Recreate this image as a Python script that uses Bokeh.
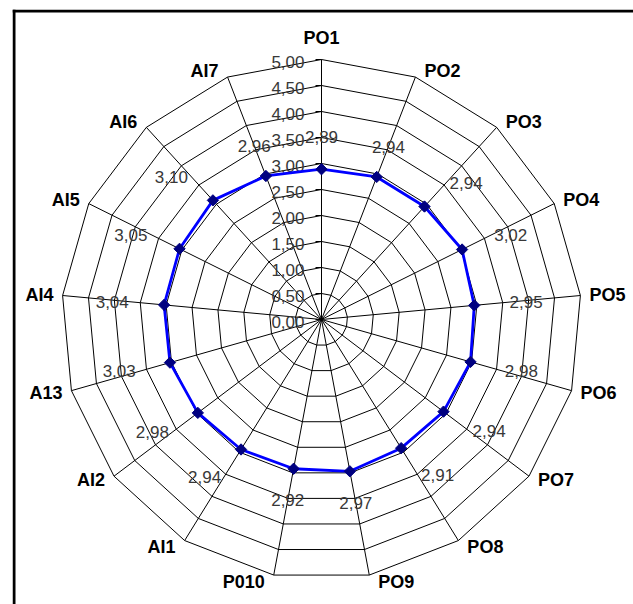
import numpy as np
from bokeh.plotting import figure
from bokeh.models import ColumnDataSource, Span, Range1d
from bokeh.core.properties import value
from bokeh.embed import file_html
from bokeh.resources import INLINE

# ---- data ----
categories = ["PO1", "PO2", "PO3", "PO4", "PO5", "PO6", "PO7", "PO8", "PO9",
              "P010", "AI1", "AI2", "A13", "AI4", "AI5", "AI6", "AI7"]
scores = [2.89, 2.94, 2.94, 3.02, 2.95, 2.98, 2.94, 2.91, 2.97,
          2.92, 2.94, 2.98, 3.03, 3.04, 3.05, 3.10, 2.96]
tick_values = [0.0, 0.5, 1.0, 1.5, 2.0, 2.5, 3.0, 3.5, 4.0, 4.5, 5.0]
tick_labels = ["0,00", "0,50", "1,00", "1,50", "2,00", "2,50",
               "3,00", "3,50", "4,00", "4,50", "5,00"]
r_max = 5.0

# ---- layout constants ----
PX = 52.0              # pixels per unit
CX, CY = 321.0, 319.0  # centre in page pixels
W, H = 633, 604
FL, FT = 12, 9         # frame left / top

FONT = value("Liberation Sans")
VAL_COLOR = "#383838"

n = len(categories)
theta = 2 * np.pi * np.arange(n) / n
sx, cy_ = np.sin(theta), np.cos(theta)

p = figure(width=W, height=H, output_backend="svg", toolbar_location=None,
           x_axis_location=None, y_axis_location=None,
           x_range=Range1d((FL - CX) / PX, (W - CX) / PX),
           y_range=Range1d((CY - H) / PX, (CY - FT) / PX),
           min_border_left=FL, min_border_top=FT,
           min_border_right=0, min_border_bottom=0,
           outline_line_color=None, background_fill_color="white",
           border_fill_color="white")
p.grid.visible = False

# frame lines (top and left)
p.add_layout(Span(location=(FL + 1.5 - CX) / PX, dimension="height",
                  line_color="black", line_width=3))
p.add_layout(Span(location=(CY - FT - 1.5) / PX, dimension="width",
                  line_color="black", line_width=3))

# rings
ring_xs, ring_ys = [], []
for t in tick_values[1:]:
    ring_xs.append(list(t * sx) + [t * sx[0]])
    ring_ys.append(list(t * cy_) + [t * cy_[0]])
p.multi_line(ring_xs, ring_ys, line_color="black", line_width=1)

# spokes
p.multi_line([[0, r_max * s] for s in sx], [[0, r_max * c] for c in cy_],
             line_color="black", line_width=1)

# tick marks on the first axis
p.segment(x0=[-6 / PX] * len(tick_values), y0=tick_values,
          x1=[0] * len(tick_values), y1=tick_values,
          line_color="black", line_width=1)

# tick labels
p.text(x=[-17 / PX] * len(tick_values), y=[t - 2 / PX for t in tick_values],
       text=tick_labels, text_align="right", text_baseline="middle",
       text_font=FONT, text_font_size="17px", text_color=VAL_COLOR)

# series
vals = np.array(scores)
px_ = vals * sx
py_ = vals * cy_
p.line(list(px_) + [px_[0]], list(py_) + [py_[0]], line_color="#0000FF", line_width=2.8)
p.scatter(px_, py_, marker="square", angle=np.pi / 4, size=8,
          fill_color="#000080", line_color="#000080")

# data labels
dy_s = -cy_  # screen direction (down positive)
ox = 32 * sx + 20 * np.sign(sx) * np.clip((np.abs(sx) - 0.36) / 0.17, 0, 1)
oy = 32 * dy_s
lab_src = ColumnDataSource(dict(
    x=px_ + ox / PX, y=py_ - oy / PX,
    t=[f"{v:.2f}".replace(".", ",") for v in scores]))
p.text(x="x", y="y", text="t", source=lab_src, text_align="center",
       text_baseline="middle", text_font=FONT, text_font_size="17px",
       text_color=VAL_COLOR)

# category labels
vx, vy = r_max * sx, r_max * cy_
groups = {"center": [], "left": [], "right": []}
for i in range(n):
    if abs(sx[i]) < 0.05:
        groups["center"].append((vx[i], vy[i] + 22 / PX, categories[i]))
    elif sx[i] > 0:
        groups["left"].append((vx[i] + 9 / PX, vy[i] + 7 * cy_[i] / PX, categories[i]))
    else:
        groups["right"].append((vx[i] - 9 / PX, vy[i] + 7 * cy_[i] / PX, categories[i]))
for align, items in groups.items():
    if not items:
        continue
    p.text(x=[a for a, _, _ in items], y=[b for _, b, _ in items],
           text=[c for _, _, c in items], text_align=align,
           text_baseline="middle", text_font=FONT, text_font_size="18px",
           text_font_style="bold", text_color="black")

open("out.html", "w").write(file_html(p, INLINE))
